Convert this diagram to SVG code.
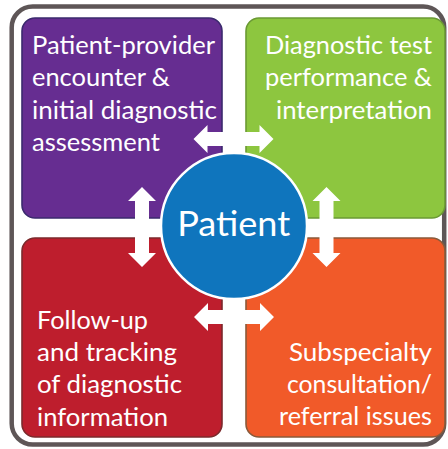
<svg xmlns="http://www.w3.org/2000/svg" width="448" height="449" viewBox="0 0 448 449">
  <defs>
    <style>
      .lbl { font-family: Lato, "Open Sans", "Liberation Sans", sans-serif; font-size: 25px; fill: #ffffff; }
      .end { text-anchor: end; }
      .box { stroke-width: 1.6; }
      .arrow { fill: #ffffff; }
    </style>
    <path id="arr" d="M-40,0 L-26,-14 L-26,-7 L26,-7 L26,-14 L40,0 L26,14 L26,7 L-26,7 L-26,14 Z"/>
  </defs>
  <rect width="448" height="449" fill="#ffffff"/>
  <rect id="frame" x="11.7" y="6.5" width="432.5" height="438" rx="21" fill="none" stroke="#5e5657" stroke-width="4.5"/>

  <g id="n-encounter">
    <rect class="box" x="22" y="18" width="200" height="200" rx="13" fill="#662d91" stroke="#3b2a6e"/>
    <text class="lbl" x="32" y="53.5" textLength="183" lengthAdjust="spacingAndGlyphs">Patient-provider</text>
    <text class="lbl" x="32" y="86" textLength="138" lengthAdjust="spacingAndGlyphs">encounter &amp;</text>
    <text class="lbl" x="32" y="118.5" textLength="185" lengthAdjust="spacingAndGlyphs">initial diagnostic</text>
    <text class="lbl" x="32" y="151" textLength="128" lengthAdjust="spacingAndGlyphs">assessment</text>
  </g>

  <g id="n-testing">
    <rect class="box" x="246" y="18" width="199" height="200" rx="13" fill="#8dc63f" stroke="#6b9a34"/>
    <text class="lbl end" x="432" y="53.5" textLength="167" lengthAdjust="spacingAndGlyphs">Diagnostic test</text>
    <text class="lbl end" x="432" y="86" textLength="167" lengthAdjust="spacingAndGlyphs">performance &amp;</text>
    <text class="lbl end" x="432" y="118.5" textLength="156" lengthAdjust="spacingAndGlyphs">interpretation</text>
  </g>

  <g id="n-followup">
    <rect class="box" x="22" y="238" width="200" height="199" rx="13" fill="#be1e2d" stroke="#7c2a2c"/>
    <text class="lbl" x="37" y="329" textLength="111" lengthAdjust="spacingAndGlyphs">Follow-up</text>
    <text class="lbl" x="37" y="361" textLength="140" lengthAdjust="spacingAndGlyphs">and tracking</text>
    <text class="lbl" x="37" y="393" textLength="145" lengthAdjust="spacingAndGlyphs">of diagnostic</text>
    <text class="lbl" x="37" y="425.5" textLength="131" lengthAdjust="spacingAndGlyphs">information</text>
  </g>

  <g id="n-referral">
    <rect class="box" x="246" y="238" width="199" height="199" rx="13" fill="#f15a29" stroke="#8a5a3a"/>
    <text class="lbl end" x="432" y="361" textLength="143" lengthAdjust="spacingAndGlyphs">Subspecialty</text>
    <text class="lbl end" x="432" y="392.5" textLength="145" lengthAdjust="spacingAndGlyphs">consultation/</text>
    <text class="lbl end" x="432" y="425" textLength="153" lengthAdjust="spacingAndGlyphs">referral issues</text>
  </g>

  <g id="connectors" class="arrow">
    <use href="#arr" transform="translate(233.5,139)"/>
    <use href="#arr" transform="translate(234,317)"/>
    <use href="#arr" transform="translate(142,227) rotate(90)"/>
    <use href="#arr" transform="translate(326.5,227) rotate(90)"/>
  </g>

  <g id="n-patient">
    <circle cx="234" cy="226" r="73" fill="#0f75bd" stroke="#ffffff" stroke-width="2.5"/>
    <text x="233.7" y="236" text-anchor="middle" font-family="Lato, 'Open Sans', 'Liberation Sans', sans-serif" font-size="35" fill="#ffffff" textLength="113" lengthAdjust="spacingAndGlyphs">Patient</text>
  </g>
</svg>
